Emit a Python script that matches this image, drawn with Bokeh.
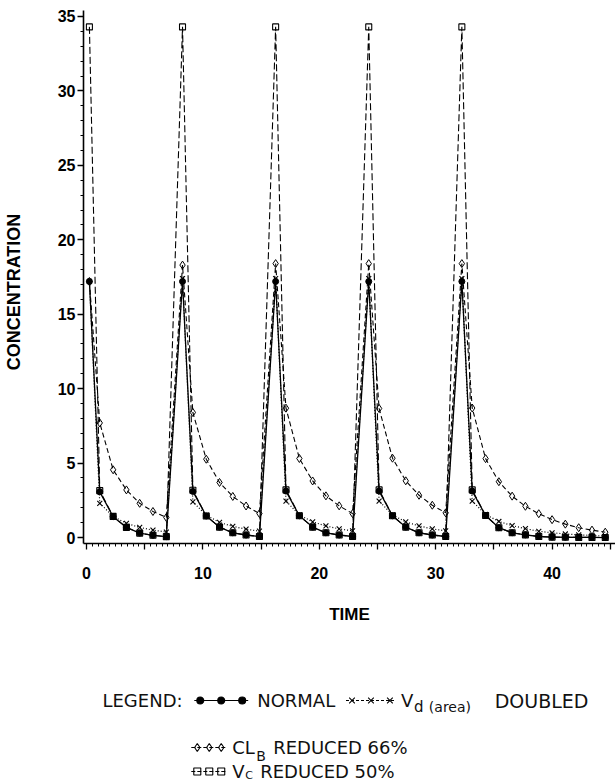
from bokeh.plotting import figure
from bokeh.models import Range1d, FixedTicker
from bokeh.layouts import column
from bokeh.core.properties import value
from bokeh.embed import file_html
from bokeh.resources import INLINE

# ---- data ----
time = [0.25, 1.14, 2.29, 3.43, 4.57, 5.71, 6.86,
        8.25, 9.14, 10.29, 11.43, 12.57, 13.71, 14.86,
        16.25, 17.14, 18.29, 19.43, 20.57, 21.71, 22.86,
        24.25, 25.14, 26.29, 27.43, 28.57, 29.71, 30.86,
        32.25, 33.14, 34.29, 35.43, 36.57, 37.71, 38.86, 40.0, 41.14, 42.29, 43.43, 44.57]

normal = [17.2, 3.07, 1.40, 0.68, 0.30, 0.15, 0.06,
          17.2, 3.10, 1.45, 0.70, 0.32, 0.17, 0.07,
          17.2, 3.12, 1.46, 0.70, 0.32, 0.17, 0.07,
          17.2, 3.12, 1.46, 0.70, 0.32, 0.17, 0.07,
          17.2, 3.12, 1.48, 0.66, 0.32, 0.18, 0.07, 0.03, 0.02, 0.01, 0.01, 0.0]

vd_doubled = [17.2, 2.30, 1.42, 0.95, 0.68, 0.50, 0.37,
              17.4, 2.40, 1.50, 1.02, 0.75, 0.56, 0.43,
              17.4, 2.45, 1.52, 1.05, 0.78, 0.58, 0.45,
              17.4, 2.45, 1.52, 1.05, 0.78, 0.58, 0.45,
              17.4, 2.45, 1.55, 1.08, 0.80, 0.60, 0.42, 0.32, 0.24, 0.18, 0.14, 0.10]

clb_reduced = [17.2, 7.70, 4.55, 3.20, 2.30, 1.75, 1.35,
               18.3, 8.40, 5.26, 3.70, 2.76, 2.12, 1.61,
               18.4, 8.69, 5.31, 3.80, 2.80, 2.13, 1.61,
               18.4, 8.67, 5.33, 3.81, 2.84, 2.17, 1.66,
               18.4, 8.70, 5.30, 3.75, 2.78, 2.10, 1.60, 1.20, 0.90, 0.66, 0.50, 0.36]

vc_reduced = [34.3, 3.15, 1.42, 0.68, 0.30, 0.15, 0.06,
              34.3, 3.18, 1.45, 0.70, 0.32, 0.17, 0.07,
              34.3, 3.20, 1.46, 0.70, 0.32, 0.17, 0.07,
              34.3, 3.20, 1.46, 0.70, 0.32, 0.17, 0.07,
              34.3, 3.20, 1.48, 0.66, 0.32, 0.18, 0.07, 0.03, 0.02, 0.01, 0.01, 0.0]

x_major = [0, 5, 10, 15, 20, 25, 30, 35, 40, 45]
x_labels = {0: "0", 5: "", 10: "10", 15: "", 20: "20", 25: "", 30: "30", 35: "", 40: "40", 45: ""}
y_major = [0, 5, 10, 15, 20, 25, 30, 35]

AX_FONT = "Liberation Sans"
LEG_FONT = "DejaVu Sans"

p = figure(width=615, height=629,
           x_range=Range1d(-0.257, 45.45), y_range=Range1d(-0.40, 35.40),
           output_backend="svg", toolbar_location=None,
           min_border_left=82, min_border_right=0, min_border_top=10, min_border_bottom=86)
p.outline_line_color = None
p.grid.visible = False

p.xaxis.ticker = FixedTicker(ticks=x_major, minor_ticks=[i * 0.5 for i in range(0, 91)])
p.xaxis.major_label_overrides = x_labels
p.yaxis.ticker = FixedTicker(ticks=y_major, minor_ticks=list(range(0, 36)))

for ax in (p.xaxis[0], p.yaxis[0]):
    ax.axis_line_width = 1.6
    ax.axis_line_color = "black"
    ax.major_tick_in = 0
    ax.major_tick_out = 6
    ax.minor_tick_in = 0
    ax.minor_tick_out = 3
    ax.major_tick_line_color = "black"
    ax.minor_tick_line_color = "black"
    ax.major_tick_line_width = 1.3
    ax.major_label_text_font = AX_FONT
    ax.major_label_text_font_style = "bold"
    ax.major_label_text_font_size = "16px"
    ax.major_label_text_color = "black"
    ax.axis_label_text_font = AX_FONT
    ax.axis_label_text_font_style = "bold"
    ax.axis_label_text_font_size = "17px"
    ax.axis_label_text_color = "black"

p.xaxis.axis_label = "TIME"
p.xaxis.major_label_standoff = 17
p.xaxis.axis_label_standoff = 23
p.yaxis.axis_label = "CONCENTRATION" + "\u00a0" * 6
p.yaxis.axis_label_text_font_size = "18px"
p.yaxis.major_label_standoff = 2
p.yaxis.axis_label_standoff = 31

# series
p.line(time, normal, line_color="black", line_width=1.3)
p.scatter(time, normal, marker="circle", size=6, fill_color="black", line_color="black")

p.line(time, vd_doubled, line_color="black", line_width=1.2, line_dash="1 2")
p.scatter(time, vd_doubled, marker="x", size=7, line_color="black", line_width=1.1)

p.line(time, clb_reduced, line_color="black", line_width=1.1, line_dash="5 3")
p.scatter(time, clb_reduced, marker="diamond", size=8, fill_color=None, line_color="black", line_width=1.0)

p.line(time, vc_reduced, line_color="black", line_width=1.1, line_dash="7 3")
p.scatter(time, vc_reduced, marker="square", size=6, fill_color=None, line_color="black", line_width=1.1)

# ---- legend panel (page pixel coordinates; frame aligned with the chart frame) ----
leg = figure(width=615, height=154, x_range=Range1d(82, 615), y_range=Range1d(783, 629),
             output_backend="svg", toolbar_location=None, x_axis_type=None, y_axis_type=None,
             min_border=0)
leg.outline_line_color = None
leg.grid.visible = False

def txt(x, y, s, size="18px", align="left"):
    leg.text(x=[x], y=[y], text=[s], text_font=value(LEG_FONT), text_font_size=size,
             text_baseline="middle", text_align=align, text_color="#111111")

def sample(x0, x1, y, marker, dash, fill, size=7):
    leg.line([x0, x1], [y, y], line_color="black", line_width=1.1, line_dash=dash)
    n = 3
    xs = [x0 + 6 + i * (x1 - x0 - 12) / (n - 1) for i in range(n)]
    leg.scatter(xs, [y] * n, marker=marker, size=size,
                fill_color=fill, line_color="black", line_width=1.1)

r1, r2, r3 = 700, 747, 771
txt(101, r1, "LEGEND:")
sample(193, 247, r1, "circle", "solid", "black")
txt(256, r1, "NORMAL")
sample(345, 395, r1, "x", "3 2", None, 8)
txt(400, r1, "V")
txt(413, r1 + 6, "d", size="15px")
txt(428, r1 + 6, "(area)", size="14px")
txt(494, r1, "DOUBLED", size="19px")

sample(190, 226, r2, "diamond", "4 2", None, 8)
txt(231, r2, "CL")
txt(255, r2 + 8, "B", size="14px")
txt(272, r2, "REDUCED 66%")

sample(190, 226, r3, "square", "4 2", None)
txt(231, r3, "V")
txt(244, r3 + 4, "C", size="11px")
txt(259, r3, "REDUCED 50%")

layout = column(p, leg, spacing=0)
open("out.html", "w").write(file_html(layout, INLINE))
